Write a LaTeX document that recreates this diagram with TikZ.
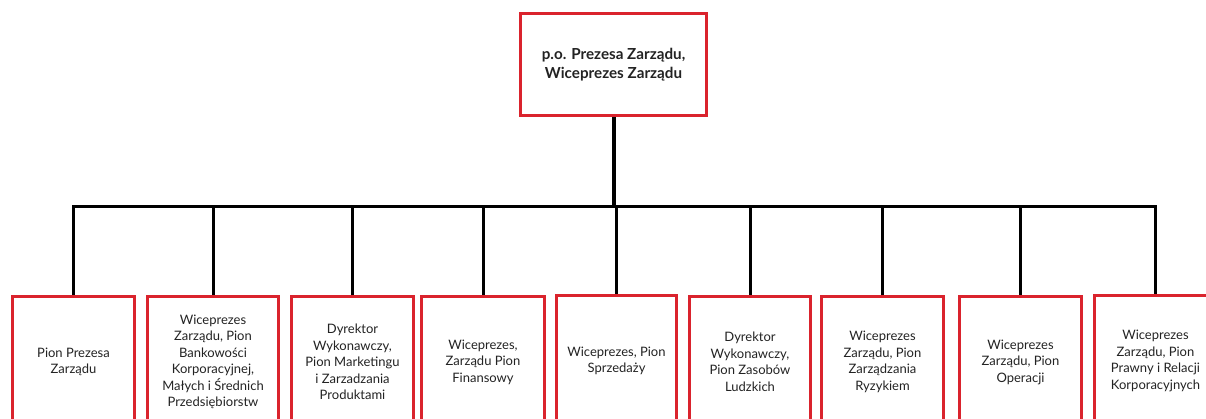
\documentclass[tikz,border=0pt]{standalone}
\usepackage{fontspec}
\setmainfont{Lato}
\definecolor{boxred}{RGB}{218,35,45}
\definecolor{inkc}{RGB}{35,35,35}

\begin{document}
\begin{tikzpicture}[x=1pt, y=-1pt,
  unit/.style={draw=boxred, line width=3pt, fill=white, text=inkc, align=center,
    font=\fontsize{13}{16.5}\selectfont, inner sep=0pt,
    minimum width=122pt, minimum height=130pt},
  link/.style={draw=black, line width=3pt}]
  \useasboundingbox (0,0) rectangle (1206,419);

  % board
  \node[unit, font=\bfseries\fontsize{15.2}{19}\selectfont,
    minimum width=186pt, minimum height=102pt] (head) at (613.5,65)
    {p.o. Prezesa Zarządu,\\Wiceprezes Zarządu};

  % divisions (cut by the lower page edge)
  \node[unit] (b1) at (73.5,362) {Pion Prezesa\\Zarządu};
  \node[unit, minimum width=131pt] (b2) at (213,362)
    {Wiceprezes\\Zarządu, Pion\\Bankowości\\Korporacyjnej,\\Małych i Średnich\\Przedsiębiorstw};
  \node[unit] (b3) at (352.5,362)
    {Dyrektor\\Wykonawczy,\\Pion Marketingu\\i Zarzadzania\\Produktami};
  \node[unit, minimum width=123pt] (b4) at (483,362)
    {Wiceprezes,\\Zarządu Pion\\Finansowy};
  \node[unit, minimum width=120pt] (b5) at (616.5,361) {Wiceprezes, Pion\\Sprzedaży};
  \node[unit, minimum width=121pt] (b6) at (750,362)
    {Dyrektor\\Wykonawczy,\\Pion Zasobów\\Ludzkich};
  \node[unit] (b7) at (882.5,362)
    {Wiceprezes\\Zarządu, Pion\\Zarządzania\\Ryzykiem};
  \node[unit] (b8) at (1020.5,362) {Wiceprezes\\Zarządu, Pion\\Operacji};
  \node[unit] (b9) at (1155.5,361)
    {Wiceprezes\\Zarządu, Pion\\Prawny i Relacji\\Korporacyjnych};

  % tree lines
  \coordinate (bus) at (614,207);
  \draw[link, line width=4pt] (head.south) -- (head.south |- bus);
  \foreach \n in {1,...,9}
    \draw[link] (head.south |- bus) -| (b\n.north);
\end{tikzpicture}
\end{document}
